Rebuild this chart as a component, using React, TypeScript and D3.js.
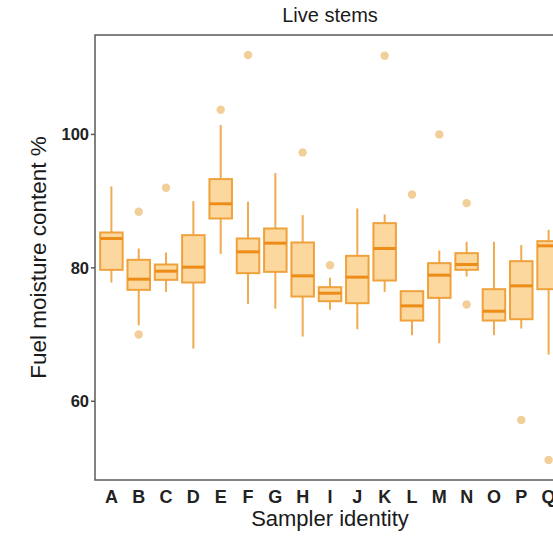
import React from "react";
import * as d3 from "d3";

const categories = ["A", "B", "C", "D", "E", "F", "G", "H", "I", "J", "K", "L", "M", "N", "O", "P", "Q"];
const whiskerLow = [77.8, 71.4, 76.4, 67.9, 82.1, 74.6, 73.9, 69.7, 73.7, 70.8, 76.4, 69.9, 68.7, 78.7, 69.9, 70.9, 67.0];
const q1 = [79.7, 76.7, 78.2, 77.8, 87.4, 79.2, 79.4, 75.7, 75.0, 74.7, 78.1, 72.1, 75.5, 79.7, 72.1, 72.3, 76.8];
const medians = [84.4, 78.3, 79.5, 80.1, 89.6, 82.4, 83.7, 78.8, 76.2, 78.6, 82.9, 74.3, 78.9, 80.5, 73.5, 77.3, 83.3];
const q3 = [85.3, 81.2, 80.5, 84.9, 93.3, 84.4, 85.9, 83.8, 77.1, 81.8, 86.7, 76.5, 80.7, 82.2, 76.8, 81.0, 84.0];
const whiskerHigh = [92.2, 82.9, 82.3, 90.0, 101.4, 89.9, 94.2, 87.9, 78.5, 88.9, 88.0, 76.5, 82.6, 83.9, 83.9, 83.4, 85.7];
const outliers: number[][] = [
  [],
  [88.4, 70.0],
  [92.0],
  [],
  [103.7],
  [111.9],
  [],
  [97.3],
  [80.4],
  [],
  [111.8],
  [91.0],
  [100.0],
  [89.7, 74.5],
  [],
  [57.2],
  [51.2],
];
const yTicks = [60, 80, 100];

const W = 553;
const H = 541;
const left = 95;
const right = 565;
const top = 35;
const bottom = 480;

export default function App() {
  const x = d3.scalePoint<string>().domain(categories).range([left, right]).padding(0.6);
  const y = d3.scaleLinear().domain([48.2, 114.9]).range([bottom, top]);
  const bw = 22.5;
  const font = "'Liberation Sans', Arial, Helvetica, sans-serif";

  return (
    <svg width={W} height={H} style={{ position: "absolute", left: 0, top: 0 }} fontFamily={font}>
      <rect width={W} height={H} fill="#ffffff" />
      <text x={(left + right) / 2} y={22} textAnchor="middle" fontSize={20} fill="#1a1a1a">
        Live stems
      </text>
      {categories.map((c, i) => {
        const cx = x(c)!;
        return (
          <g key={c}>
            <line x1={cx} x2={cx} y1={y(whiskerHigh[i])} y2={y(q3[i])} stroke="#efaa52" strokeWidth={2} />
            <line x1={cx} x2={cx} y1={y(q1[i])} y2={y(whiskerLow[i])} stroke="#efaa52" strokeWidth={2} />
            <rect
              x={cx - bw / 2}
              y={y(q3[i])}
              width={bw}
              height={y(q1[i]) - y(q3[i])}
              fill="#fcd89f"
              stroke="#efa23c"
              strokeWidth={2}
            />
            <line x1={cx - bw / 2} x2={cx + bw / 2} y1={y(medians[i])} y2={y(medians[i])} stroke="#ee8c18" strokeWidth={3} />
            {outliers[i].map((v, j) => (
              <circle key={j} cx={cx} cy={y(v)} r={4.2} fill="#f2cf98" />
            ))}
          </g>
        );
      })}
      <rect x={left} y={top} width={right - left} height={bottom - top} fill="none" stroke="#5a5a5a" strokeWidth={1.5} />
      {yTicks.map((t) => (
        <g key={t}>
          <line x1={left - 4} x2={left} y1={y(t)} y2={y(t)} stroke="#5a5a5a" strokeWidth={1.5} />
          <text x={left - 6} y={y(t)} dy="0.36em" textAnchor="end" fontSize={16.5} fill="#222" fontWeight="bold">
            {t}
          </text>
        </g>
      ))}
      {categories.map((c) => (
        <text key={c} x={x(c)!} y={503} textAnchor="middle" fontSize={18} fill="#222" fontWeight="bold">
          {c}
        </text>
      ))}
      <text x={(left + right) / 2} y={526} textAnchor="middle" fontSize={22} fill="#1a1a1a">
        Sampler identity
      </text>
      <text
        transform={`translate(46, ${(top + bottom) / 2}) rotate(-90)`}
        textAnchor="middle"
        fontSize={22.5}
        fill="#1a1a1a"
      >
        Fuel moisture content %
      </text>
    </svg>
  );
}
